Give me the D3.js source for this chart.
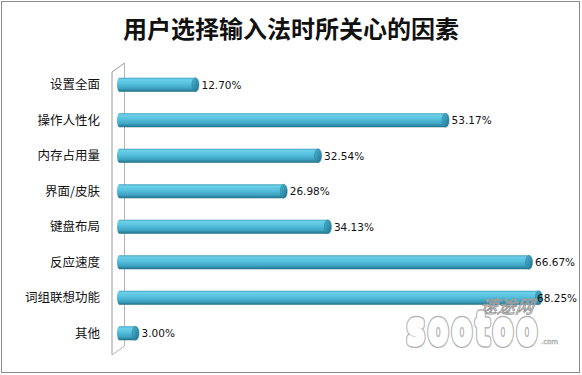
<!DOCTYPE html>
<html>
<head>
<meta charset="utf-8">
<script src="https://cdn.jsdelivr.net/npm/d3@7/dist/d3.min.js"></script>
<style>
  html, body { margin: 0; padding: 0; background: #fff; }
  svg { display: block; }
</style>
</head>
<body>
<svg id="chart" width="582" height="375"></svg>
<script>
// Survey: factors users care about when choosing an input method
const title = "用户选择输入法时所关心的因素";
const categories = ["设置全面", "操作人性化", "内存占用量", "界面/皮肤", "键盘布局", "反应速度", "词组联想功能", "其他"];
const shares = [12.70, 53.17, 32.54, 26.98, 34.13, 66.67, 68.25, 3.00];

const svg = d3.select("#chart");
const W = 582, H = 375;

// outer frame
svg.append("rect")
  .attr("x", 1.5).attr("y", 1.5)
  .attr("width", W - 4).attr("height", H - 4)
  .attr("fill", "#fff").attr("stroke", "#8a8a8a").attr("stroke-width", 1);

// title
svg.append("text")
  .attr("x", 291).attr("y", 38)
  .attr("text-anchor", "middle")
  .attr("font-family", "'Noto Sans CJK SC', sans-serif")
  .attr("font-weight", 700)
  .attr("font-size", 24)
  .attr("fill", "#111")
  .text(title);

// scales
const x = d3.scaleLinear().domain([0, 70]).range([117, 117 + 70 * 6.18]);
const y = d3.scalePoint().domain(categories).range([67, 351]).padding(0.5);
const barH = 14;
const capR = 3.5;

// gradients for the cylinder body and its end cap
const defs = svg.append("defs");
const body = defs.append("linearGradient").attr("id", "cyl").attr("x1", 0).attr("y1", 0).attr("x2", 0).attr("y2", 1);
[["0%", "#3d9fbd"], ["12%", "#6ccfe8"], ["40%", "#58c2df"], ["75%", "#3ea5c4"], ["92%", "#2a819c"], ["100%", "#1f6a80"]]
  .forEach(([o, c]) => body.append("stop").attr("offset", o).attr("stop-color", c));
const cap = defs.append("linearGradient").attr("id", "cap").attr("x1", 0).attr("y1", 0).attr("x2", 1).attr("y2", 1);
[["0%", "#4fb3d0"], ["60%", "#2f8eab"], ["100%", "#1f6a80"]]
  .forEach(([o, c]) => cap.append("stop").attr("offset", o).attr("stop-color", c));

// 3D axis wall on the left
const wall = svg.append("g").attr("fill", "none");
wall.append("path")
  .attr("d", "M112,355 L112,72 L124.5,63")
  .attr("stroke", "#9a9a9a").attr("stroke-width", 1);
wall.append("path")
  .attr("d", "M112,355 L124.5,346 L124.5,63")
  .attr("stroke", "#b4b4b4").attr("stroke-width", 1);

// category labels
svg.append("g")
  .selectAll("text")
  .data(categories)
  .join("text")
  .attr("x", 100)
  .attr("y", d => y(d) + 4.5)
  .attr("text-anchor", "end")
  .attr("font-family", "'Noto Sans CJK SC', sans-serif")
  .attr("font-size", 12.5)
  .attr("fill", "#111")
  .text(d => d);

// bars drawn as horizontal cylinders
const rows = categories.map((c, i) => ({ cat: c, v: shares[i] }));
const bars = svg.append("g").selectAll("g").data(rows).join("g");

bars.append("ellipse")
  .attr("cx", x(0) + 2.5).attr("cy", d => y(d.cat))
  .attr("rx", 2.5).attr("ry", barH / 2)
  .attr("fill", "url(#cyl)");
bars.append("rect")
  .attr("x", x(0) + 2.5)
  .attr("y", d => y(d.cat) - barH / 2)
  .attr("width", d => x(d.v) - x(0) - 2.5)
  .attr("height", barH)
  .attr("fill", "url(#cyl)");
bars.append("ellipse")
  .attr("cx", d => x(d.v)).attr("cy", d => y(d.cat))
  .attr("rx", capR).attr("ry", barH / 2)
  .attr("fill", "url(#cap)")
  .attr("stroke", "#2b7f98").attr("stroke-width", 0.5);

// site watermark, translucent, laid over the plot
const wm = svg.append("g");
wm.append("text")
  .attr("x", 479).attr("y", 313)
  .attr("font-family", "'Noto Sans CJK SC', sans-serif")
  .attr("font-size", 18).attr("font-style", "italic")
  .attr("fill", "#fff").attr("fill-opacity", 0.35)
  .attr("stroke", "#9a9a9a").attr("stroke-width", 0.9)
  .attr("transform", "skewX(-10) translate(55,0)")
  .text("速途网");
const logo = wm.append("g").attr("transform", "translate(405,343) scale(1,1.35)");
[["#b4b4b4", 7], ["#fff", 4.8]].forEach(([c, w]) => {
  logo.append("text")
    .attr("font-family", "'DejaVu Sans', sans-serif")
    .attr("font-size", 30)
    .attr("textLength", 128)
    .attr("lengthAdjust", "spacing")
    .attr("x", 3)
    .attr("fill", "#fff")
    .attr("stroke", c).attr("stroke-width", w)
    .attr("stroke-linejoin", "round").attr("stroke-linecap", "round")
    .text("sootoo");
});
wm.append("text")
  .attr("x", 541).attr("y", 344)
  .attr("font-family", "'DejaVu Sans', sans-serif")
  .attr("font-size", 7)
  .attr("fill", "#fff").attr("stroke", "#a8a8a8").attr("stroke-width", 0.5)
  .text(".com");

// value labels, kept inside the frame
const labelMaxX = 537;
svg.append("g")
  .selectAll("text")
  .data(rows)
  .join("text")
  .attr("x", d => Math.min(x(d.v) + capR + 2.5, labelMaxX))
  .attr("y", d => y(d.cat) + 4)
  .attr("font-family", "'DejaVu Sans', Verdana, sans-serif")
  .attr("font-size", 10.5)
  .attr("fill", "#111")
  .text(d => d.v.toFixed(2) + "%");
</script>
</body>
</html>
